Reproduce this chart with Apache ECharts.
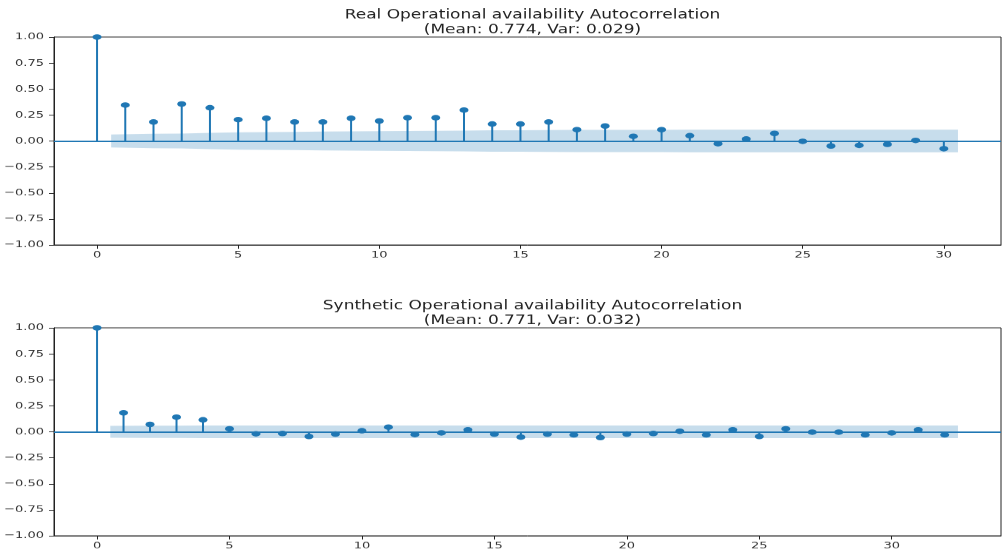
<!DOCTYPE html>
<html>
<head>
<meta charset="utf-8">
<script src="https://cdn.jsdelivr.net/npm/echarts@6/dist/echarts.min.js"></script>
<style>
  html, body { margin: 0; padding: 0; background: #ffffff; overflow: hidden; }
  /* the figure is laid out taller and then squeezed vertically */
  #chart { width: 1003px; height: 749px; transform: scaleY(0.74); transform-origin: 0 0; }
</style>
</head>
<body>
<div id="chart"></div>
<script>
// Autocorrelation by lag, real series (lags 0..30)
const realAcf = [1.0, 0.346, 0.183, 0.356, 0.320, 0.205, 0.218, 0.183, 0.183, 0.218, 0.192,
  0.224, 0.224, 0.298, 0.163, 0.163, 0.183, 0.109, 0.144, 0.045, 0.109,
  0.051, -0.026, 0.019, 0.073, -0.003, -0.048, -0.042, -0.032, 0.006, -0.074];
// 95% confidence half-width for lags 1..30 (real)
const realBand = [0.062, 0.069, 0.071, 0.078, 0.083, 0.085, 0.088, 0.090, 0.092, 0.094,
  0.096, 0.098, 0.100, 0.103, 0.104, 0.105, 0.106, 0.107, 0.107, 0.107,
  0.108, 0.108, 0.108, 0.108, 0.108, 0.108, 0.108, 0.108, 0.108, 0.108];

// Autocorrelation by lag, synthetic series (lags 0..32)
const synthAcf = [1.0, 0.183, 0.071, 0.141, 0.115, 0.029, -0.019, -0.016, -0.045, -0.022, 0.010,
  0.045, -0.026, -0.010, 0.019, -0.022, -0.051, -0.022, -0.029, -0.055, -0.022,
  -0.016, 0.006, -0.029, 0.019, -0.045, 0.029, -0.003, -0.003, -0.029, -0.010,
  0.019, -0.029];
// 95% confidence half-width for lags 1..32 (synthetic)
const synthBand = [0.057, 0.059, 0.059, 0.060, 0.061, 0.061, 0.061, 0.061, 0.061, 0.061,
  0.061, 0.061, 0.061, 0.061, 0.061, 0.061, 0.061, 0.061, 0.061, 0.061,
  0.061, 0.061, 0.061, 0.061, 0.061, 0.061, 0.061, 0.061, 0.061, 0.061,
  0.061, 0.061];

const titles = [
  'Real Operational availability Autocorrelation\n(Mean: 0.774, Var: 0.029)',
  'Synthetic Operational availability Autocorrelation\n(Mean: 0.771, Var: 0.032)'
];
const xTicks = [0, 5, 10, 15, 20, 25, 30];
const yTicks = [-1, -0.75, -0.5, -0.25, 0, 0.25, 0.5, 0.75, 1];

const C0 = '#1f77b4';
const FONT = 'DejaVu Sans';
const INK = '#222';

function xRange(n) {
  // lags 0..n with the band reaching n + 0.5, padded by 5%
  const pad = (n + 0.5) * 0.05;
  return [-pad, n + 0.5 + pad];
}

function bandPoints(band) {
  const n = band.length;
  return band.map((w, i) => {
    let x = i + 1;
    if (i === 0) x -= 0.5;
    if (i === n - 1) x += 0.5;
    return [x, w];
  });
}

function stemItem(params, api) {
  const x = api.value(0), y = api.value(1);
  const a = api.coord([x, 0]);
  const b = api.coord([x, y]);
  return {
    type: 'line',
    shape: { x1: a[0], y1: a[1], x2: b[0], y2: b[1] },
    style: { stroke: C0, lineWidth: 2 }
  };
}

function bandRenderer(pts) {
  return function (params, api) {
    if (params.dataIndex !== 0) return null;
    const upper = pts.map(p => api.coord([p[0], p[1]]));
    const lower = pts.slice().reverse().map(p => api.coord([p[0], -p[1]]));
    return {
      type: 'polygon',
      shape: { points: upper.concat(lower) },
      style: { fill: 'rgba(31,119,180,0.25)' }
    };
  };
}

const grids = [
  { left: 54, right: 2, top: 50, height: 281 },
  { left: 54, right: 2, top: 443, height: 281 }
];
const titleTops = [5, 398];
const acfs = [realAcf, synthAcf];
const bands = [realBand, synthBand];

const option = {
  backgroundColor: '#ffffff',
  animation: false,
  title: titles.map((t, i) => ({
    text: t,
    left: 527.5,
    top: titleTops[i],
    textAlign: 'center',
    textStyle: { fontFamily: FONT, fontSize: 17, fontWeight: 'normal', color: INK, lineHeight: 20.5 }
  })),
  grid: grids.map(g => Object.assign({ show: true, borderColor: INK, borderWidth: 1, backgroundColor: 'transparent' }, g)),
  xAxis: acfs.map((acf, i) => {
    const r = xRange(acf.length - 1);
    return {
      type: 'value', gridIndex: i, min: r[0], max: r[1],
      splitLine: { show: false },
      axisLine: { show: true, onZero: false, lineStyle: { color: INK, width: 1 } },
      axisTick: { show: true, length: 5, customValues: xTicks, lineStyle: { color: INK, width: 1 } },
      axisLabel: { customValues: xTicks, margin: 7, fontFamily: FONT, fontSize: 13, color: '#333' }
    };
  }),
  yAxis: acfs.map((acf, i) => ({
    type: 'value', gridIndex: i, min: -1, max: 1, interval: 0.25,
    splitLine: { show: false },
    axisLine: { show: true, onZero: false, lineStyle: { color: INK, width: 1 } },
    axisTick: { show: true, length: 5, customValues: yTicks, lineStyle: { color: INK, width: 1 } },
    axisLabel: {
      customValues: yTicks, margin: 10, fontFamily: FONT, fontSize: 13, color: '#333',
      formatter: v => v.toFixed(2).replace('-', '\u2212')
    }
  })),
  series: []
};

acfs.forEach((acf, i) => {
  const pts = acf.map((v, k) => [k, v]);
  const bpts = bandPoints(bands[i]);
  option.series.push({
    type: 'custom', xAxisIndex: i, yAxisIndex: i, z: 1, silent: true,
    renderItem: bandRenderer(bpts),
    data: bpts
  });
  option.series.push({
    type: 'custom', xAxisIndex: i, yAxisIndex: i, z: 2, silent: true,
    renderItem: stemItem,
    data: pts,
    markLine: {
      silent: true, symbol: 'none', label: { show: false },
      lineStyle: { color: C0, width: 2, type: 'solid' },
      data: [{ yAxis: 0 }]
    }
  });
  option.series.push({
    type: 'scatter', xAxisIndex: i, yAxisIndex: i, z: 3, silent: true, clip: true,
    symbol: 'circle', symbolSize: [9, 7.5],
    itemStyle: { color: C0, opacity: 1 },
    data: pts
  });
});

const chart = echarts.init(document.getElementById('chart'));
chart.setOption(option);
</script>
</body>
</html>
